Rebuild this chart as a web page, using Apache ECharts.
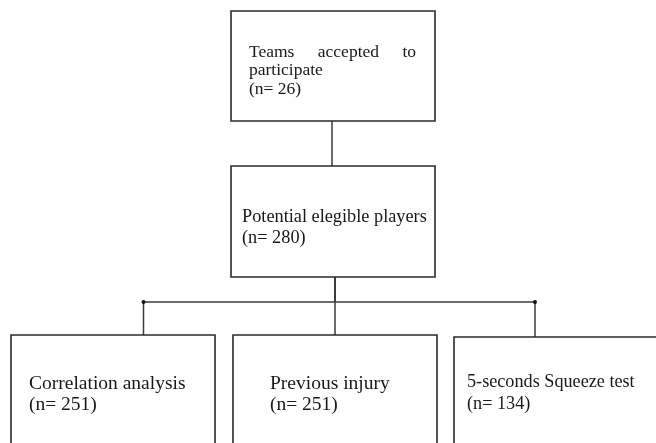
<!DOCTYPE html>
<html>
<head>
<meta charset="utf-8">
<script src="https://cdn.jsdelivr.net/npm/echarts@6/dist/echarts.min.js"></script>
<style>html,body{margin:0;padding:0;background:#fff;}#chart{width:656px;height:443px;}</style>
</head>
<body>
<div id="chart"></div>
<script>
// ---- data ----
const nodeTitles = ['Teams accepted to participate', 'Potential elegible players', 'Correlation analysis', 'Previous injury', '5-seconds Squeeze test'];
const nodeCounts = [26, 280, 251, 251, 134];
const links = [[0, 1], [1, 2], [1, 3], [1, 4]];

// ---- layout (positions / styles, page units) ----
const boxLayout = [
  { x0: 231, y0: 11, x1: 435, y1: 121, tx: 249, tr: 416, base: [56, 74, 92.5], fs: 17.5, wrap: [3, 1], justify: [true, false] },
  { x0: 231, y0: 166, x1: 435, y1: 277, tx: 242, base: [220.5, 241.5], fs: 18.3 },
  { x0: 11, y0: 335, x1: 215, y1: 460, tx: 29, base: [387.5, 409], fs: 19.5 },
  { x0: 233, y0: 335, x1: 437, y1: 460, tx: 270, base: [387.5, 409], fs: 19.5 },
  { x0: 454, y0: 337, x1: 670, y1: 460, tx: 467, base: [386, 407.5], fs: 18.2 }
];
const busY = 302;
const fontFamily = '"Liberation Serif", "Times New Roman", serif';
const ink = '#181818';
const lineCol = '#3a3a3a';

const measureCtx = document.createElement('canvas').getContext('2d');
function textWidth(t, fs) { measureCtx.font = fs + 'px ' + fontFamily; return measureCtx.measureText(t).width; }

function nodeLines(i) {
  const L = boxLayout[i];
  const words = nodeTitles[i].split(' ');
  let lines = [];
  if (L.wrap) {
    let k = 0;
    L.wrap.forEach(n => { lines.push(words.slice(k, k + n)); k += n; });
  } else lines.push(words);
  lines.push(['(n=', String(nodeCounts[i]) + ')']);
  return lines;
}

const chart = echarts.init(document.getElementById('chart'), null, { renderer: 'canvas' });

function renderNode(params, api) {
  const i = params.dataIndex;
  const L = boxLayout[i];
  const p0 = api.coord([L.x0, L.y0]);
  const p1 = api.coord([L.x1, L.y1]);
  const children = [{
    type: 'rect',
    shape: { x: p0[0], y: p0[1], width: p1[0] - p0[0], height: p1[1] - p0[1] },
    style: { fill: '#fff', stroke: '#2a2a2a', lineWidth: 1.6 }
  }];
  const lines = nodeLines(i);
  lines.forEach((ws, li) => {
    const yb = api.coord([0, L.base[li]])[1];
    const yc = yb - 0.19 * L.fs;
    const xl = api.coord([L.tx, 0])[0];
    const font = { fontFamily: fontFamily, fontSize: L.fs, fill: ink, verticalAlign: 'middle' };
    if (L.justify && L.justify[li] && ws.length > 1) {
      const xr = api.coord([L.tr, 0])[0];
      const widths = ws.map(w => textWidth(w, L.fs));
      const total = widths.reduce((a, b) => a + b, 0);
      const gap = (xr - xl - total) / (ws.length - 1);
      let x = xl;
      ws.forEach((w, wi) => {
        children.push({ type: 'text', x: x, y: yc, style: Object.assign({ text: w, align: 'left' }, font) });
        x += widths[wi] + gap;
      });
    } else {
      children.push({ type: 'text', x: xl, y: yc, style: Object.assign({ text: ws.join(' '), align: 'left' }, font) });
    }
  });
  return { type: 'group', children: children };
}

// connector geometry derived from links and box layout
const connX = { '0-1': 332, '1-2': 143.5, '1-3': 335, '1-4': 535 };
const parentDropX = 335;

function renderLink(params, api) {
  const [a, b] = links[params.dataIndex];
  const A = boxLayout[a], B = boxLayout[b];
  const x = connX[a + '-' + b];
  const children = [];
  const st = { stroke: lineCol, lineWidth: 1.5 };
  if (a === 0) {
    const s = api.coord([x, A.y1]), e = api.coord([x, B.y0]);
    children.push({ type: 'line', shape: { x1: s[0], y1: s[1], x2: e[0], y2: e[1] }, style: st });
  } else {
    const s = api.coord([parentDropX, A.y1]), m = api.coord([parentDropX, busY]);
    children.push({ type: 'line', shape: { x1: s[0], y1: s[1], x2: m[0], y2: m[1] }, style: st });
    const h = api.coord([x, busY]);
    children.push({ type: 'line', shape: { x1: m[0], y1: m[1], x2: h[0], y2: h[1] }, style: st });
    const e = api.coord([x, B.y0]);
    children.push({ type: 'line', shape: { x1: h[0], y1: h[1], x2: e[0], y2: e[1] }, style: st });
    if (x !== parentDropX) {
      children.push({ type: 'circle', shape: { cx: h[0], cy: h[1], r: 2 }, style: { fill: '#111' } });
    }
  }
  return { type: 'group', children: children };
}

chart.setOption({
  animation: false,
  backgroundColor: '#fff',
  grid: { left: 0, right: 0, top: 0, bottom: 0 },
  xAxis: { type: 'value', min: 0, max: 656, show: false },
  yAxis: { type: 'value', min: 0, max: 443, inverse: true, show: false },
  series: [
    { type: 'custom', renderItem: renderLink, data: links.map((l, k) => k), clip: false, z: 1 },
    { type: 'custom', renderItem: renderNode, data: nodeTitles.map((t, k) => k), clip: false, z: 2 }
  ]
});
</script>
</body>
</html>
